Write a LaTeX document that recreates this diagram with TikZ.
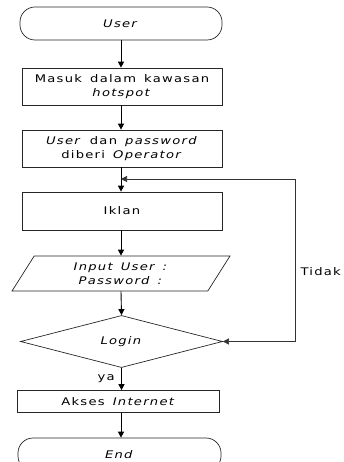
\documentclass[tikz,border=0pt]{standalone}
\usepackage{fontspec}
\setmainfont{DejaVu Sans}[FakeStretch=1.25, LetterSpace=12, WordSpace=1.5]
\usetikzlibrary{shapes.geometric,arrows.meta}

\tikzset{
	kasten/.style={draw=black!85, line width=0.7pt, minimum width=200pt, align=center, inner sep=1pt},
	terminal/.style={kasten, rounded corners=15pt, minimum height=33pt},
	eingabe/.style={draw=black!85, line width=0.7pt, trapezium, trapezium left angle=47, trapezium right angle=133, trapezium stretches body, minimum width=218pt, minimum height=35pt, align=center, inner sep=1pt},
	raute/.style={draw=black!85, line width=0.7pt, diamond, minimum width=202pt, minimum height=49pt, inner sep=0pt},
	pfeil/.style={line width=0.9pt, -{Triangle[length=6pt,width=6pt]}},
	rueck/.style={draw=black!80, line width=0.6pt, {Triangle[length=6pt,width=6pt]}-{Triangle[length=6pt,width=6pt]}}
}

\begin{document}
\begin{tikzpicture}[x=1pt, y=-1pt, font=\fontsize{10.5}{14}\selectfont]
		\useasboundingbox (0,0) rectangle (344,462);
		
		\node[terminal, minimum width=202pt] (user) at (121,23.5) {\textit{User}};
		\node[kasten, minimum height=37pt] (masuk) at (122,86.5) {Masuk dalam kawasan\\\textit{hotspot}};
		\node[kasten, minimum height=37pt] (operator) at (122,148.5) {\textit{User} dan \textit{password}\\diberi \textit{Operator}};
		\node[kasten, minimum height=38pt] (iklan) at (122,211) {Iklan};
		\node[eingabe] (input) at (121,273.5) {\textit{Input User :}\\\textit{Password :}};
		\node[raute] (login) at (121.5,341.5) {\textit{Login}};
		\node[kasten, minimum width=202pt, minimum height=22pt] (akses) at (118.5,401.5) {Akses \textit{Internet}};
		\node[terminal, minimum width=203pt] (ende) at (119.5,454.5) {\textit{End}};
		
		\coordinate (merge) at (121,179);
		
		\draw[pfeil] (user.south -| 121,0) -- (masuk.north -| 121,0);
		\draw[pfeil] (masuk.south -| 121,0) -- (operator.north -| 121,0);
		\draw[pfeil] (operator.south -| 121,0) -- (iklan.north -| 121,0);
		\draw[pfeil] (iklan.south -| 121,0) -- (input.north -| 121,0);
		\draw[pfeil] (input.south -| 121,0) -- (login.north);
		\draw[pfeil] (login.south) -- node[left=3pt] (ya) {ya} (login.south |- akses.north);
		\draw[pfeil] (akses.south -| 121,0) -- (ende.north -| 121,0);
		
		\draw[rueck] (login.east) -- (295,341.5) |- (merge);
		\node[anchor=west] (tidak) at (297,272) {Tidak};
	\end{tikzpicture}
\end{document}
